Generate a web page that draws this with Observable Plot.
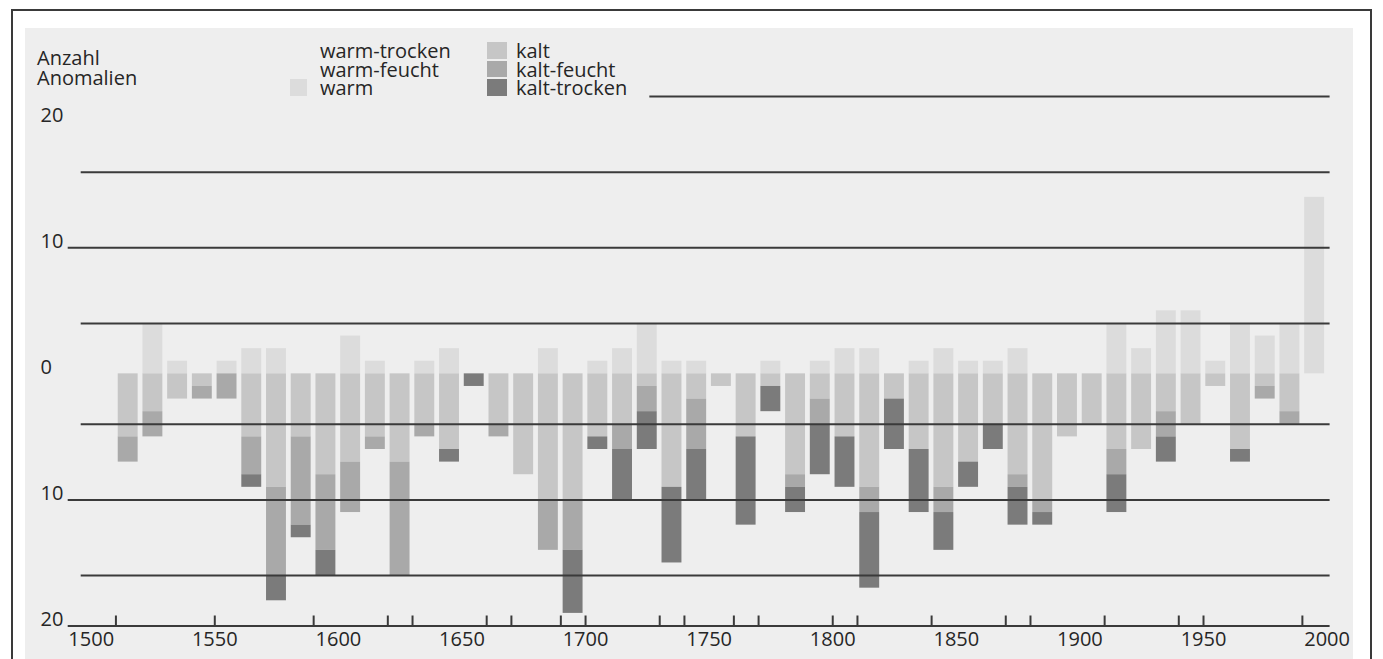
<!DOCTYPE html>
<html>
<head>
<meta charset="utf-8">
<script src="https://cdn.jsdelivr.net/npm/d3@7"></script>
<script src="https://cdn.jsdelivr.net/npm/@observablehq/plot@0.6"></script>
<style>
  html, body { margin: 0; padding: 0; width: 1383px; height: 659px; overflow: hidden; background: #ffffff; font-family: "Open Sans", sans-serif; }
  #frame { position: absolute; left: 11px; top: 9px; width: 1361px; height: 700px; border: 2px solid #3a3a3a; box-sizing: border-box; background: #ffffff; }
  #page { position: absolute; left: 25px; top: 28px; width: 1328px; height: 640px; background: #eeeeee; }
  #chart { position: absolute; left: 0; top: 0; }
  .txt { position: absolute; font-size: 20px; line-height: 18.5px; color: #262626; white-space: nowrap; }
  .sw { position: absolute; }
</style>
</head>
<body>
<div id="frame"></div>
<div id="page"></div>
<div id="chart"></div>
<div id="ylabel" class="txt" style="left:37px; top:48px; line-height:20px;"></div>
<div id="legend"></div>
<script>
// ---- data ----
const decades = [1510,1520,1530,1540,1550,1560,1570,1580,1590,1600,1610,1620,1630,1640,1650,1660,1670,1680,1690,1700,1710,1720,1730,1740,1750,1760,1770,1780,1790,1800,1810,1820,1830,1840,1850,1860,1870,1880,1890,1900,1910,1920,1930,1940,1950,1960,1970,1980,1990];
const warm        = [0,4,1,0,1,2,2,0,0,3,1,0,1,2,0,0,0,2,0,1,2,4,1,1,0,0,1,0,1,2,2,0,1,2,1,1,2,0,0,0,4,2,5,5,1,4,3,4,14];
const kalt        = [5,3,2,1,0,5,9,5,8,7,5,7,4,6,0,4,8,10,10,5,4,1,9,2,1,5,1,8,2,5,9,2,6,9,7,4,8,10,5,4,6,6,3,4,1,6,1,3,0];
const kaltFeucht  = [2,2,0,1,2,3,7,7,6,4,1,9,1,0,0,1,0,4,4,0,2,2,0,4,0,0,0,1,2,0,2,0,0,2,0,0,1,1,0,0,2,0,2,0,0,0,1,1,0];
const kaltTrocken = [0,0,0,0,0,1,2,1,2,0,0,0,0,1,1,0,0,0,5,1,4,3,6,4,0,7,2,2,4,4,6,4,5,3,2,2,3,1,0,0,3,0,2,0,0,1,0,0,0];

const legendLeft  = ["warm-trocken", "warm-feucht", "warm"];
const legendRight = ["kalt", "kalt-feucht", "kalt-trocken"];
const stackOrder  = ["warm", "warm-feucht", "warm-trocken", "kalt", "kalt-feucht", "kalt-trocken"];
const colorOf = {"warm-trocken": "#eeeeee", "warm-feucht": "#eeeeee", "warm": "#dcdcdc", "kalt": "#c6c6c6", "kalt-feucht": "#a9a9a9", "kalt-trocken": "#7b7b7b"};

const yTickValues = [20, 10, 0, -10, -20];
const xLabelYears = [1500, 1550, 1600, 1650, 1700, 1750, 1800, 1850, 1900, 1950, 2000];
const xTickYears  = [1510, 1550, 1590, 1620, 1630, 1660, 1670, 1690, 1700, 1730, 1740, 1760, 1770, 1800, 1810, 1840, 1870, 1880, 1910, 1940, 1950, 1990];
const majorRules  = [10, -10, -20];
const minorRules  = [16, 4, -4, -16];
const topRule     = [{y: 22, from: 1726, to: 2000}];
const yTitle      = ["Anzahl", "Anomalien"];

// ---- tidy table ----
const rows = [];
decades.forEach((d, i) => {
  rows.push({decade: d, cat: "warm", v: warm[i]});
  rows.push({decade: d, cat: "kalt", v: -kalt[i]});
  rows.push({decade: d, cat: "kalt-feucht", v: -kaltFeucht[i]});
  rows.push({decade: d, cat: "kalt-trocken", v: -kaltTrocken[i]});
});
const data = rows.filter(r => r.v !== 0);

const ink = "#3a3a3a";

const chart = Plot.plot({
  width: 1383,
  height: 659,
  marginLeft: 90.7,
  marginRight: 56.4,
  marginTop: 96,
  marginBottom: 33.5,
  style: {background: "transparent", fontFamily: "'Open Sans', sans-serif", fontSize: "20px", color: "#262626", overflow: "visible"},
  x: {type: "linear", domain: [1500, 2000], axis: null},
  y: {domain: [-20, 22], axis: null},
  color: {domain: Object.keys(colorOf), range: Object.values(colorOf)},
  marks: [
    Plot.rect(data, Plot.stackY({
      x: "decade",
      x1: "decade",
      x2: d => d.decade + 10,
      y: "v",
      fill: "cat",
      order: stackOrder,
      insetLeft: 2.3,
      insetRight: 2.5
    })),
    Plot.ruleY(minorRules, {stroke: ink, strokeWidth: 2, insetLeft: -10, insetRight: -3}),
    Plot.ruleY(majorRules, {stroke: ink, strokeWidth: 2, insetLeft: -23, insetRight: -3}),
    Plot.ruleY(topRule, {y: "y", x1: "from", x2: "to", stroke: ink, strokeWidth: 2, insetRight: -3}),
    Plot.axisX(xTickYears, {anchor: "bottom", tickSize: -10, tickFormat: () => "", stroke: ink, strokeWidth: 2}),
    Plot.axisX(xLabelYears, {anchor: "bottom", tickSize: 0, tickPadding: 6, tickFormat: d => String(d), fontSize: 20}),
    Plot.axisY(yTickValues, {anchor: "left", tickSize: 0, tickPadding: 50.7, textAnchor: "start", lineAnchor: "bottom", tickFormat: d => String(Math.abs(d)), fontSize: 20})
  ]
});
document.getElementById("chart").appendChild(chart);

// ---- y title ----
document.getElementById("ylabel").innerHTML = yTitle.join("<br>");

// ---- legend (one text block per column, swatches beside it) ----
const legend = document.getElementById("legend");
const rowTop = [43, 61.5, 80];
function column(names, textLeft, swLeft, swWidth) {
  const t = document.createElement("div");
  t.className = "txt";
  t.style.left = textLeft + "px";
  t.style.top = "42px";
  t.innerHTML = names.join("<br>");
  legend.appendChild(t);
  names.forEach((name, i) => {
    const s = document.createElement("div");
    s.className = "sw";
    s.style.left = swLeft + "px";
    s.style.width = swWidth + "px";
    s.style.top = (rowTop[i] - 1) + "px";
    s.style.height = "16.7px";
    s.style.background = colorOf[name];
    legend.appendChild(s);
  });
}
column(legendLeft, 320, 290, 17);
column(legendRight, 516, 487, 20);
</script>
</body>
</html>
